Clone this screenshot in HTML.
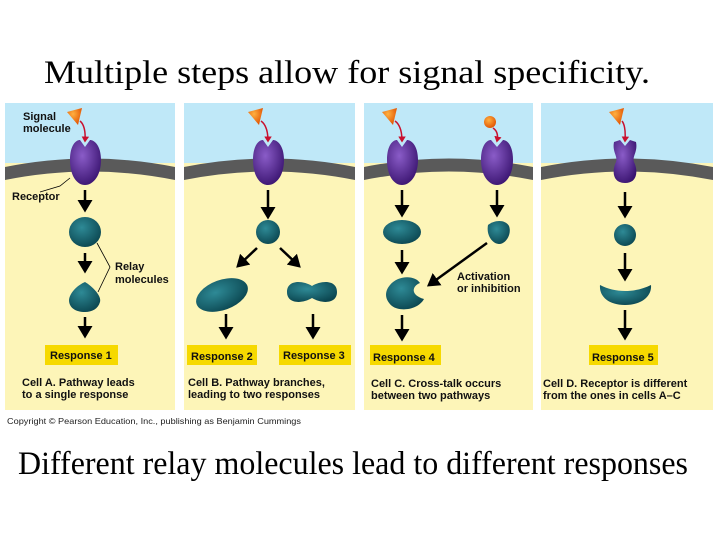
<!DOCTYPE html>
<html><head><meta charset="utf-8"><style>
html,body{margin:0;padding:0;background:#fff;width:720px;height:540px;overflow:hidden}
svg{display:block}
.b{font-family:"Liberation Sans",sans-serif;font-weight:bold;font-size:11px;fill:#111}
.t{font-family:"Liberation Serif",serif;font-size:33px;fill:#000}
</style></head><body>
<svg width="720" height="540" viewBox="0 0 720 540" xmlns="http://www.w3.org/2000/svg">
<defs>
<marker id="ah" markerWidth="6" markerHeight="6" refX="4" refY="3" orient="auto" markerUnits="strokeWidth">
<path d="M0,0 L5,3 L0,6 Z" fill="#000"/></marker>
<marker id="rh" markerWidth="5" markerHeight="5" refX="3" refY="2.5" orient="auto" markerUnits="strokeWidth">
<path d="M0,0 L4,2.5 L0,5 Z" fill="#c8102e"/></marker>
<radialGradient id="pg" cx="0.4" cy="0.35" r="0.7"><stop offset="0" stop-color="#8a5cc8"/><stop offset="1" stop-color="#3a1470"/></radialGradient>
<radialGradient id="tg" cx="0.4" cy="0.35" r="0.7"><stop offset="0" stop-color="#2e8a96"/><stop offset="1" stop-color="#0b4650"/></radialGradient>
<radialGradient id="og" cx="0.4" cy="0.35" r="0.7"><stop offset="0" stop-color="#ffb040"/><stop offset="1" stop-color="#e05000"/></radialGradient>
</defs>
<text class="t" x="44" y="83" textLength="606" lengthAdjust="spacingAndGlyphs">Multiple steps allow for signal specificity.</text>

<g id="panels">
<rect x="5" y="103" width="170" height="307" fill="#fdf5b8"/>
<rect x="5" y="103" width="170" height="60" fill="#bfe8f8"/>
<path d="M5,167 Q90,150 175,167 L175,180 Q90,163 5,180 Z" fill="#5a5a5a"/>
<rect x="184" y="103" width="171" height="307" fill="#fdf5b8"/>
<rect x="184" y="103" width="171" height="60" fill="#bfe8f8"/>
<path d="M184,167 Q270,150 355,167 L355,180 Q270,163 184,180 Z" fill="#5a5a5a"/>
<rect x="364" y="103" width="169" height="307" fill="#fdf5b8"/>
<rect x="364" y="103" width="169" height="60" fill="#bfe8f8"/>
<path d="M364,167 Q449,150 533,167 L533,180 Q449,163 364,180 Z" fill="#5a5a5a"/>
<rect x="541" y="103" width="172" height="307" fill="#fdf5b8"/>
<rect x="541" y="103" width="172" height="60" fill="#bfe8f8"/>
<path d="M541,167 Q627,150 713,167 L713,180 Q627,163 541,180 Z" fill="#5a5a5a"/>
</g>

<path d="M70,160 C70,145 76,140 80,140 L85,147 L90,140 C94,140 101,145 101,160 C101,176 93,185 85,185 C77,185 70,176 70,160Z" fill="url(#pg)"/>
<path d="M253,160 C253,145 259,140 263,140 L268,147 L273,140 C277,140 284,145 284,160 C284,176 276,185 268,185 C260,185 253,176 253,160Z" fill="url(#pg)"/>
<path d="M387,160 C387,145 393,140 397,140 L402,147 L407,140 C411,140 418,145 418,160 C418,176 410,185 402,185 C394,185 387,176 387,160Z" fill="url(#pg)"/>
<path d="M481,160 C481,145 487,140 491,140 L497,147 L503,140 C507,140 513,145 513,160 C513,176 505,185 497,185 C489,185 481,176 481,160Z" fill="url(#pg)"/>
<path d="M614,142 L620,140 L625,146 L630,140 L636,142 C638,152 632,156 634,162 C638,170 638,183 625,183 C612,183 612,170 616,162 C618,156 612,152 614,142Z" fill="url(#pg)"/>

<path d="M67,112 L82,108 L78,125 Z" fill="url(#og)"/>
<path d="M248,112 L263,108 L259,125 Z" fill="url(#og)"/>
<path d="M382,112 L397,108 L393,125 Z" fill="url(#og)"/>
<circle cx="490" cy="122" r="6" fill="url(#og)"/>
<path d="M609,112 L624,108 L620,125 Z" fill="url(#og)"/>
<g fill="none" stroke="#c8102e" stroke-width="1.5" marker-end="url(#rh)">
<path d="M80,121 Q86,126 85,141"/>
<path d="M261,121 Q268,126 268,141"/>
<path d="M395,121 Q402,126 402,141"/>
<path d="M493,128 Q499,132 497,141"/>
<path d="M622,121 Q626,126 625,141"/>
</g>

<g stroke="#000" stroke-width="2.5" fill="none" marker-end="url(#ah)">
<line x1="85" y1="190" x2="85" y2="210"/>
<line x1="85" y1="253" x2="85" y2="271"/>
<line x1="85" y1="317" x2="85" y2="336"/>
<line x1="268" y1="190" x2="268" y2="217"/>
<line x1="257" y1="248" x2="238" y2="266"/>
<line x1="280" y1="248" x2="299" y2="266"/>
<line x1="226" y1="314" x2="226" y2="337"/>
<line x1="313" y1="314" x2="313" y2="337"/>
<line x1="402" y1="190" x2="402" y2="215"/>
<line x1="497" y1="190" x2="497" y2="215"/>
<line x1="402" y1="250" x2="402" y2="272"/>
<line x1="487" y1="243" x2="429" y2="285"/>
<line x1="402" y1="315" x2="402" y2="339"/>
<line x1="625" y1="192" x2="625" y2="216"/>
<line x1="625" y1="253" x2="625" y2="279"/>
<line x1="625" y1="310" x2="625" y2="338"/>
</g>

<g fill="url(#tg)">
<ellipse cx="85" cy="232" rx="16" ry="15"/>
<path d="M85,282 C92,286 102,296 100,302 C98,309 92,312 85,312 C76,312 69,308 69,300 C70,292 78,285 85,282Z"/>
<circle cx="268" cy="232" r="12"/>
<ellipse cx="222" cy="295" rx="27" ry="15" transform="rotate(-20 222 295)"/>
<path d="M287,292 C287,280 302,280 312,286 C322,280 337,280 337,292 C337,304 322,304 312,298 C302,304 287,304 287,292Z"/>
<ellipse cx="402" cy="232" rx="19" ry="12"/>
<path d="M488,225 C494,220 505,219 509,226 C512,234 506,244 499,244 C493,244 486,236 488,225Z"/>
<path d="M390,285 C398,275 415,275 420,283 C412,286 410,295 424,299 C418,310 400,312 392,306 C385,300 384,292 390,285Z"/>
<circle cx="625" cy="235" r="11"/>
<path d="M600,285 C615,293 635,293 651,285 C652,296 642,305 625,305 C608,305 599,296 600,285Z"/>
</g>

<text class="b" x="23" y="120">Signal</text>
<text class="b" x="23" y="132">molecule</text>
<text class="b" x="12" y="200">Receptor</text>
<path d="M40,192 L60,186 L70,178" stroke="#000" stroke-width="0.8" fill="none"/>
<text class="b" x="115" y="270">Relay</text>
<text class="b" x="115" y="283">molecules</text>
<path d="M97,243 L110,267 L98,292" stroke="#000" stroke-width="0.8" fill="none"/>
<text class="b" x="457" y="280">Activation</text>
<text class="b" x="457" y="292">or inhibition</text>

<g fill="#f6d900">
<rect x="45" y="345" width="73" height="20"/>
<rect x="187" y="345" width="70" height="20"/>
<rect x="279" y="345" width="72" height="20"/>
<rect x="370" y="345" width="71" height="20"/>
<rect x="589" y="345" width="69" height="20"/>
</g>
<text class="b" x="50" y="359">Response 1</text>
<text class="b" x="191" y="360">Response 2</text>
<text class="b" x="283" y="359">Response 3</text>
<text class="b" x="373" y="361">Response 4</text>
<text class="b" x="592" y="361">Response 5</text>

<text class="b" x="22" y="386">Cell A. Pathway leads</text>
<text class="b" x="22" y="398">to a single response</text>
<text class="b" x="188" y="386">Cell B. Pathway branches,</text>
<text class="b" x="188" y="398">leading to two responses</text>
<text class="b" x="371" y="387">Cell C. Cross-talk occurs</text>
<text class="b" x="371" y="399">between two pathways</text>
<text class="b" x="543" y="387">Cell D. Receptor is different</text>
<text class="b" x="543" y="399">from the ones in cells A–C</text>
<text x="7" y="424" font-family="Liberation Sans,sans-serif" font-size="8.5" fill="#222" textLength="294" lengthAdjust="spacingAndGlyphs">Copyright © Pearson Education, Inc., publishing as Benjamin Cummings</text>

<text class="t" x="18" y="474" font-size="31" textLength="670" lengthAdjust="spacingAndGlyphs">Different relay molecules lead to different responses</text>
</svg>
</body></html>
